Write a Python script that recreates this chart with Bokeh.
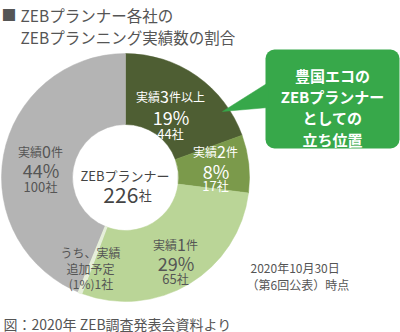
import math
from bokeh.plotting import figure
from bokeh.models import Range1d, BoxAnnotation, ColumnDataSource
from bokeh.core.properties import value
from bokeh.embed import file_html
from bokeh.resources import INLINE

# ---- data ----
title_lines = ["ZEBプランナー各社の", "ZEBプランニング実績数の割合"]
categories = ["実績3件以上", "実績2件", "実績1件", "実績0件"]
counts = [44, 17, 65, 100]
percents = [19, 8, 29, 44]
planned_label = ["うち、実績", "追加予定"]
planned_count = 1
planned_percent = 1
center_label = "ZEBプランナー"
total_count = 226
callout_lines = ["豊国エコの", "ZEBプランナー", "としての", "立ち位置"]
date_lines = ["2020年10月30日", "（第6回公表）時点"]
source_note = "図：2020年 ZEB調査発表会資料より"

colors = ["#4e5e33", "#7b9a4b", "#bad597", "#b4b4b4"]
planned_color = "#e6efda"
callout_color = "#37a84a"
FONT = "Noto Sans CJK JP"
TXT = "#555555"

W, H = 400, 332


def Y(py):
    return H - py


p = figure(width=W, height=H, x_range=Range1d(0, W), y_range=Range1d(0, H),
           output_backend="svg", toolbar_location=None, min_border=0)
p.axis.visible = False
p.grid.visible = False
p.outline_line_color = None
p.background_fill_color = "white"
p.border_fill_color = "white"

CX, CY = 125, Y(177)
R_OUT, R_IN = 124, 53

tot = sum(counts)
starts, ends = [], []
a = math.pi / 2
for c in counts:
    sweep = 2 * math.pi * c / tot
    starts.append(a)
    ends.append(a - sweep)
    a -= sweep

src = ColumnDataSource(dict(x=[CX] * len(counts), y=[CY] * len(counts),
                            s=starts, e=ends, c=colors))
p.annular_wedge(x="x", y="y", inner_radius=R_IN, outer_radius=R_OUT,
                start_angle="s", end_angle="e", direction="clock",
                fill_color="c", line_color="c", line_width=0.5, source=src)

# planned sliver at start of the 実績0件 wedge
ps = ends[2]
pe = ps - 2 * math.pi * planned_count / tot
p.annular_wedge(x=[CX], y=[CY], inner_radius=R_IN, outer_radius=R_OUT,
                start_angle=[ps], end_angle=[pe], direction="clock",
                fill_color=planned_color, line_color=planned_color, line_width=1.5)

# callout
box = BoxAnnotation(left=265, right=399, top=Y(49), bottom=Y(148),
                    fill_color=callout_color, fill_alpha=1.0, line_color=None,
                    border_radius=9, level="underlay")
p.add_layout(box)
p.patch(x=[222, 268, 268], y=[Y(111), Y(82), Y(107)],
        fill_color=callout_color, line_color=callout_color, line_width=0.5)


def w_est(s, size):
    w = 0.0
    for ch in s:
        if ord(ch) > 0x2E80:
            w += 1.0
        elif ch.isdigit():
            w += 0.56
        elif ch == '%':
            w += 0.86
        elif ch in '()':
            w += 0.33
        elif ch == ' ':
            w += 0.25
        else:
            w += 0.64
    return w * size


def txt(x, base_py, t, size, color=TXT, align="left", bold=False):
    p.text(x=[x], y=[Y(base_py)], text=[t], text_font=value(FONT),
           text_font_size=f"{size}px", text_color=color, text_align=align,
           text_baseline="alphabetic",
           text_font_style="bold" if bold else "normal")


def mixed(cx, base_py, parts, color=TXT):
    total = sum(w_est(t, s) for t, s in parts)
    x = cx - total / 2
    for t, s in parts:
        txt(x, base_py, t, s, color)
        x += w_est(t, s)


# title
txt(1, 14, "■", 15)
txt(20, 14, title_lines[0], 15.5)
txt(20, 36, title_lines[1], 15.5)

# segment labels: (center x, baselines of three lines, color)
label_pos = [
    (170, (96, 116, 133), "white"),
    (215, (151, 170, 185), "white"),
    (175, (244, 262, 278), TXT),
    (40, (151, 169, 186), TXT),
]
for cat, cnt, pct, (lx, (b1, b2, b3), col) in zip(categories, counts, percents, label_pos):
    mixed(lx, b1, [(cat[:2], 12), (cat[2], 16), (cat[3:], 12)], col)
    mixed(lx, b2, [(f"{pct}%", 18)], col)
    mixed(lx, b3, [(str(cnt), 13), ("社", 12)], col)

# planned label
mixed(90, 252, [(planned_label[0], 12)])
mixed(90, 268, [(planned_label[1], 12)])
mixed(90, 283, [(f"({planned_percent}%){planned_count}社", 12)])

# center
mixed(125, 175, [(center_label, 13)], "#444444")
mixed(127, 194, [(str(total_count), 21), ("社", 13)], "#444444")

# callout text
for t, b in zip(callout_lines, [75, 96, 117, 139]):
    txt(332, b, t, 15, "white", align="center", bold=True)

# date
txt(250, 267, date_lines[0], 12)
txt(246, 284, date_lines[1], 12)

# source
txt(3, 323, source_note, 14)

open("out.html", "w").write(file_html(p, INLINE))
